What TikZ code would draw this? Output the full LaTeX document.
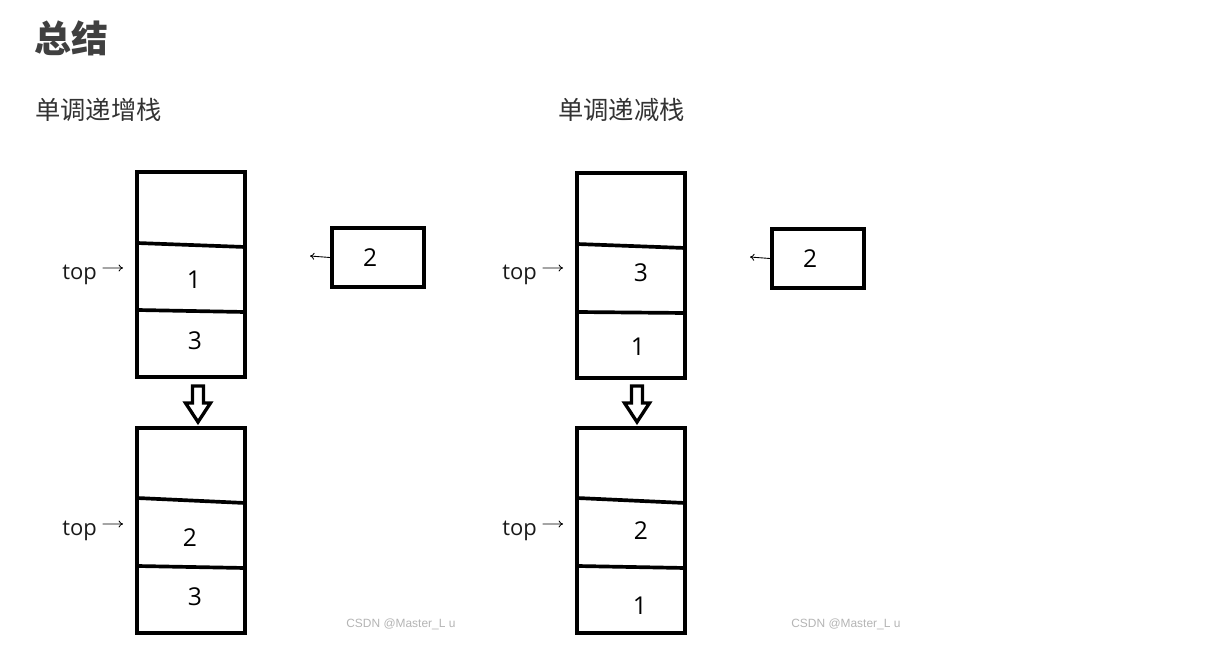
\documentclass[tikz,border=0pt]{standalone}
\usepackage{fontspec}
\setmainfont{Open Sans}
\newfontfamily\cjk{Noto Sans CJK SC}
\newfontfamily\wmfont{Liberation Sans}
\usetikzlibrary{arrows.meta,positioning,calc}
\definecolor{titlegray}{HTML}{404040}
\definecolor{subgray}{HTML}{333333}
\definecolor{markgray}{HTML}{B4B4B4}
\tikzset{
  stack/frame/.style={line width=2.1pt, line join=miter},
  stack/div/.style={line width=2.1pt},
  stack/num/.style={font=\fontsize{14}{16}\selectfont, inner sep=0pt},
  stack/top/.style={font=\fontsize{12.5}{15}\selectfont, text=black!90, inner sep=1pt},
  stack/ptr/.style={line width=0.5pt, -{To[length=2.5pt,width=4pt]}},
  stack/incoming/.style={draw, line width=2.4pt, minimum width=1.84cm, minimum height=1.18cm,
    label={[stack/num, xshift=-4.5pt]center:2}},
  pushdown/.pic={
    \draw[line width=1.9pt, line join=miter]
      (-5.5,1) -- (5.5,1) -- (5.5,18) -- (12.5,18) -- (0,37) -- (-12.5,18) -- (-5.5,18) -- cycle;
  }
}

\begin{document}
\begin{tikzpicture}[x=0.02cm, y=-0.02cm]
\useasboundingbox (0,0) rectangle (1228,668);

% Headings
\node[anchor=west, inner sep=0pt, text=titlegray, font=\cjk\bfseries\fontsize{21}{24}\selectfont] (title) at (34,38) {总结};
\node[anchor=west, inner sep=0pt, text=subgray, font=\cjk\fontsize{14.4}{17}\selectfont] (incTitle) at (35,110) {单调递增栈};
\node[anchor=west, inner sep=0pt, text=subgray, font=\cjk\fontsize{14.4}{17}\selectfont] (decTitle) at (558,110) {单调递减栈};

% Increasing stack, before
\begin{scope}[shift={(137,172)}]
  \draw[stack/frame] (0,0) rectangle (108,205);
  \draw[stack/div] (0,71) -- (108,75);
  \draw[stack/div] (0,138) -- (108,140);
  \node[stack/num] (incA1) at (57,108) {1};
  \node[stack/num] (incA3) at (58,169) {3};
\end{scope}
\node[stack/top, anchor=east] (incTopA) at (99,275) {top};
\coordinate (incTipA) at (123,268);
\draw[stack/ptr] ([xshift=2pt,yshift=4pt]incTopA.east) -- (incTipA);

\node[stack/incoming] (incNew) at (378,257.5) {};
\coordinate (incNewTip) at (310,256);
\draw[stack/ptr] (incNew.west) -- (incNewTip);

\pic at (198,385) {pushdown};

% Increasing stack, after
\begin{scope}[shift={(137,428)}]
  \draw[stack/frame] (0,0) rectangle (108,205);
  \draw[stack/div] (0,70) -- (108,75);
  \draw[stack/div] (0,138) -- (108,140);
  \node[stack/num] (incB2) at (53,110) {2};
  \node[stack/num] (incB3) at (58,169) {3};
\end{scope}
\node[stack/top, anchor=east] (incTopB) at (99,531) {top};
\coordinate (incTipB) at (123,524);
\draw[stack/ptr] ([xshift=2pt,yshift=4pt]incTopB.east) -- (incTipB);

\node[font=\wmfont\fontsize{6.8}{8}\selectfont, text=markgray, anchor=west, inner sep=0pt] (incMark) at (346,624) {CSDN @Master\_L u};

% Decreasing stack, before
\begin{scope}[shift={(577,173)}]
  \draw[stack/frame] (0,0) rectangle (108,205);
  \draw[stack/div] (0,71) -- (108,75);
  \draw[stack/div] (0,139) -- (108,140);
  \node[stack/num] (decA3) at (64,100) {3};
  \node[stack/num] (decA1) at (61,174) {1};
\end{scope}
\node[stack/top, anchor=east] (decTopA) at (539,275) {top};
\coordinate (decTipA) at (563,268);
\draw[stack/ptr] ([xshift=2pt,yshift=4pt]decTopA.east) -- (decTipA);

\node[stack/incoming] (decNew) at (818,258.5) {};
\coordinate (decNewTip) at (750,257);
\draw[stack/ptr] (decNew.west) -- (decNewTip);

\pic at (637,385) {pushdown};

% Decreasing stack, after
\begin{scope}[shift={(577,428)}]
  \draw[stack/frame] (0,0) rectangle (108,205);
  \draw[stack/div] (0,70) -- (108,75);
  \draw[stack/div] (0,138) -- (108,140);
  \node[stack/num] (decB2) at (64,103) {2};
  \node[stack/num] (decB1) at (63,178) {1};
\end{scope}
\node[stack/top, anchor=east] (decTopB) at (539,531) {top};
\coordinate (decTipB) at (563,524);
\draw[stack/ptr] ([xshift=2pt,yshift=4pt]decTopB.east) -- (decTipB);

\node[font=\wmfont\fontsize{6.8}{8}\selectfont, text=markgray, anchor=west, inner sep=0pt] (decMark) at (791,624) {CSDN @Master\_L u};
\end{tikzpicture}
\end{document}
